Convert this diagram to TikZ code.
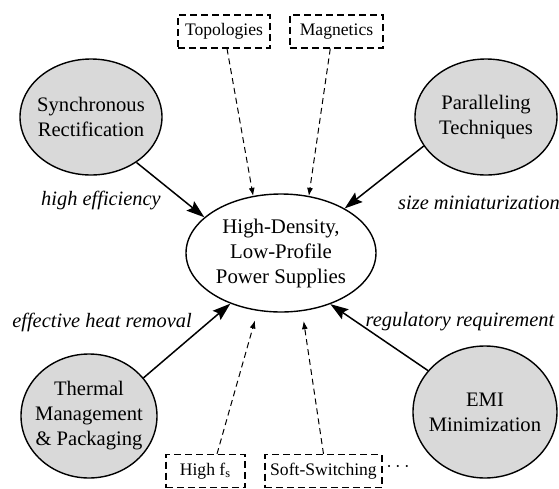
\documentclass[tikz,border=0pt]{standalone}
\usepackage{fontspec}
\setmainfont{Liberation Serif}
\usetikzlibrary{arrows.meta,shapes.geometric}

\begin{document}
\begin{tikzpicture}[x=0.5pt, y=-0.5pt,
    topic/.style={ellipse, draw, line width=0.7pt, fill=gray!30, inner xsep=-6pt, inner ysep=0pt, align=center, font=\fontsize{10.3}{12.5}\selectfont},
    goal/.style={ellipse, draw, line width=0.7pt, fill=white, minimum width=95pt, minimum height=59pt, inner xsep=-6pt, inner ysep=0pt, align=center, font=\fontsize{10.4}{12.5}\selectfont},
    factor/.style={rectangle, draw, line width=0.55pt, dash pattern=on 3.5pt off 2pt, minimum height=16.5pt, inner sep=0pt, font=\fontsize{8.8}{10}\selectfont},
    benefit/.style={inner sep=0pt, font=\fontsize{10.2}{12}\selectfont\itshape},
    push/.style={line width=0.75pt, -{Stealth[length=9pt, width=6pt, inset=1.5pt]}},
    hint/.style={line width=0.5pt, dash pattern=on 3pt off 2pt, -{Latex[length=4pt, width=3pt]}}]

    \useasboundingbox (0,0) rectangle (559,489);

    % Central goal
    \node[goal] (goal) at (281,253) {High-Density,\\Low-Profile\\Power Supplies};

    % Enabling technologies and their arrows
    \foreach \name/\x/\y/\w/\h/\txt/\out/\in in {
        sync/91/117/71/58/{Synchronous\\Rectification}/-45/155,
        para/486/117/71/58/{Paralleling\\Techniques}/205/35,
        therm/89/416/68/62/{Thermal\\Management\\\& Packaging}/35/225,
        emi/485/412/72/66/{EMI\\Minimization}/144/-46} {
        \node[topic, minimum width=\w pt, minimum height=\h pt] (\name) at (\x,\y) {\txt};
        \draw[push] (\name.\out) -- (goal.\in);
    }

    % Benefits
    \node[benefit] (effic) at (101,201) {high efficiency};
    \node[benefit] (size) at (479,203) {size miniaturization};
    \node[benefit] (heat) at (102,322) {effective heat removal};
    \node[benefit] (regul) at (460,322) {regulatory requirement};

    % Contributing factors
    \foreach \name/\x/\y/\w/\txt in {
        topo/224/31.5/46/Topologies,
        magn/336.5/31.5/46.5/Magnetics,
        highfs/205.5/471/39.5/{High f\textsubscript{s}},
        soft/323.5/471/58.5/Soft-Switching} {
        \node[factor, minimum width=\w pt] (\name) at (\x,\y) {\txt};
    }
    \node[inner sep=0pt] (more) at (398,467) {$\cdots$};

    % Dashed links
    \draw[hint] (topo.-80) -- (goal.116);
    \draw[hint] (magn.-110) -- (goal.64);
    \draw[hint, shorten >=5pt] (highfs.56) -- (goal.248);
    \draw[hint, shorten >=5pt] (soft.north) -- (goal.-70);
\end{tikzpicture}
\end{document}
